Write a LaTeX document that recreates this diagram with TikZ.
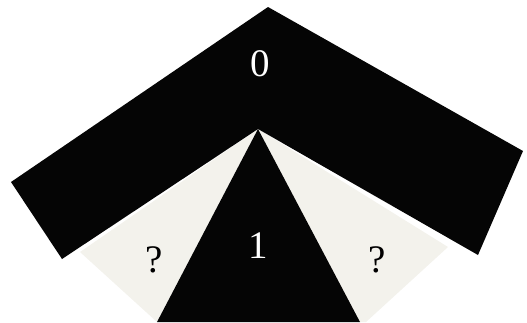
\documentclass[tikz,border=0pt]{standalone}
\usepackage{fontspec}
\setmainfont{Liberation Serif}
\definecolor{lightfill}{RGB}{243,242,236}
\definecolor{darkfill}{RGB}{5,5,5}
\tikzset{
  lightpart/.style={fill=lightfill, draw=none},
  darkpart/.style={fill=darkfill, draw=none},
  lbl/.style={font=\fontsize{39}{43}\selectfont, inner sep=0pt},
  lblwhite/.style={lbl, text=white},
  lbldark/.style={lbl, text=black}
}
\begin{document}
\begin{tikzpicture}[x=1pt,y=-1pt]
\useasboundingbox (0,0) rectangle (527,322);
% light side triangles
\fill[lightpart] (258,129) -- (80,252) -- (157,322) -- cycle;
\fill[lightpart] (258,129) -- (448,247) -- (366,322) -- (358,322) -- cycle;
% central dark triangle
\fill[darkpart] (258,129) -- (157,322) -- (360,322) -- cycle;
% chevron band
\fill[darkpart] (268,7) -- (523,151) -- (478,255) -- (258,129) -- (62,259) -- (11,182) -- cycle;
% labels
\node[lblwhite] (zero) at (260,64) {0};
\node[lblwhite] (one) at (258,246) {1};
\node[lbldark] (qleft) at (154,260) {?};
\node[lbldark] (qright) at (377,260) {?};
\end{tikzpicture}
\end{document}
